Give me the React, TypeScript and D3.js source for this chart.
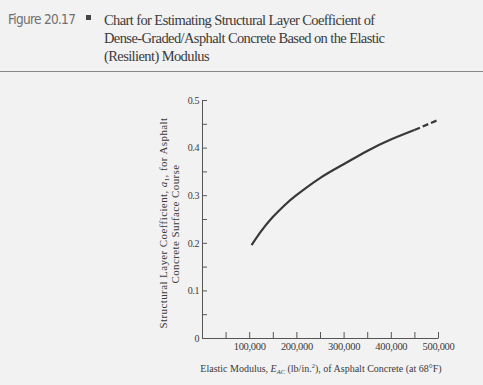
import React, { useEffect, useRef } from 'react';
import * as d3 from 'd3';

// values
const solidModulus = [105000, 125000, 150000, 175000, 200000, 250000, 300000, 350000, 400000, 450000];
const solidCoef = [0.195, 0.224, 0.254, 0.279, 0.300, 0.336, 0.365, 0.393, 0.417, 0.437];
const dashedModulus = [450000, 500000];
const dashedCoef = [0.437, 0.458];

const xTicks = [50000, 100000, 150000, 200000, 250000, 300000, 350000, 400000, 450000, 500000];
const xLabelTicks = [100000, 200000, 300000, 400000, 500000];
const yTicks = [0, 0.05, 0.1, 0.15, 0.2, 0.25, 0.3, 0.35, 0.4, 0.45, 0.5];
const yLabelTicks = [0, 0.1, 0.2, 0.3, 0.4, 0.5];

const titleLines = [
  'Chart for Estimating Structural Layer Coefficient of',
  'Dense-Graded/Asphalt Concrete Based on the Elastic',
  '(Resilient) Modulus'
];

const W = 483;
const H = 385;

function App() {
  const svgRef = useRef(null);

  useEffect(() => {
    document.body.style.margin = '0';
    const svg = d3.select(svgRef.current);
    svg.selectAll('*').remove();

    const serif = '"Liberation Serif", "DejaVu Serif", serif';
    const ink = '#3a3a3a';

    svg.append('rect').attr('width', W).attr('height', H).attr('fill', '#f2f2f2');

    // header
    svg.append('text')
      .attr('x', 8).attr('y', 24)
      .attr('font-family', '"Liberation Sans Narrow", "DejaVu Sans Condensed", sans-serif')
      .attr('font-size', 13.5).attr('fill', '#707070')
      .attr('letter-spacing', -0.7)
      .text('Figure 20.17');
    svg.append('rect').attr('x', 86).attr('y', 15).attr('width', 5).attr('height', 5).attr('fill', '#444');
    titleLines.forEach((t, i) => {
      svg.append('text')
        .attr('x', 104).attr('y', 25 + i * 18)
        .attr('font-family', serif).attr('font-size', 14.5).attr('fill', ink)
        .attr('letter-spacing', -0.6)
        .text(t);
    });
    svg.append('line')
      .attr('x1', 0).attr('x2', W).attr('y1', 71.5).attr('y2', 71.5)
      .attr('stroke', '#888').attr('stroke-width', 1.2);

    const x = d3.scaleLinear().domain([0, 500000]).range([202, 438]);
    const y = d3.scaleLinear().domain([0, 0.5]).range([338, 100]);

    // x axis, ticks pointing up
    const gx = svg.append('g').attr('transform', `translate(0,${y(0)})`);
    gx.call(d3.axisBottom(x).tickValues(xTicks).tickSizeInner(-6).tickSizeOuter(0).tickFormat(() => ''));
    gx.selectAll('.tick text')
      .filter(d => xLabelTicks.includes(d))
      .text(d => d3.format(',')(d))
      .attr('y', 5);
    gx.selectAll('text').attr('font-family', serif).attr('font-size', 10.5).attr('fill', ink).attr('letter-spacing', -0.3);
    gx.selectAll('line, path').attr('stroke', '#555');

    // y axis, ticks pointing right
    const gy = svg.append('g').attr('transform', `translate(${x(0)},0)`);
    gy.call(d3.axisLeft(y).tickValues(yTicks).tickSizeInner(-5).tickSizeOuter(0).tickPadding(3)
      .tickFormat(d => yLabelTicks.some(v => Math.abs(v - d) < 1e-9) ? (d === 0 ? '0' : d3.format('.1f')(d)) : ''));
    gy.selectAll('text').attr('font-family', serif).attr('font-size', 10).attr('fill', ink).attr('letter-spacing', -0.4);
    gy.selectAll('line, path').attr('stroke', '#555');

    // curve
    const line = d3.line().x(d => x(d[0])).y(d => y(d[1])).curve(d3.curveNatural);
    svg.append('path')
      .datum(solidModulus.map((m, i) => [m, solidCoef[i]]))
      .attr('fill', 'none').attr('stroke', '#383838').attr('stroke-width', 2.2)
      .attr('d', line);
    svg.append('path')
      .datum(dashedModulus.map((m, i) => [m, dashedCoef[i]]))
      .attr('fill', 'none').attr('stroke', '#383838').attr('stroke-width', 2.2)
      .attr('stroke-dasharray', '6,3')
      .attr('d', line);

    // y title, two rotated lines
    const yt1 = svg.append('text')
      .attr('transform', 'translate(167,223) rotate(-90)')
      .attr('text-anchor', 'middle')
      .attr('font-family', serif).attr('font-size', 11).attr('fill', ink)
      .attr('letter-spacing', 0.4);
    yt1.append('tspan').text('Structural Layer Coefficient, ');
    yt1.append('tspan').attr('font-style', 'italic').text('a');
    yt1.append('tspan').attr('font-size', 7).attr('dy', 2).text('1');
    yt1.append('tspan').attr('dy', -2).text(', for Asphalt');
    svg.append('text')
      .attr('transform', 'translate(179,224) rotate(-90)')
      .attr('text-anchor', 'middle')
      .attr('font-family', serif).attr('font-size', 11).attr('fill', ink)
      .attr('letter-spacing', 0.4)
      .text('Concrete Surface Course');

    // x title
    const xt = svg.append('text')
      .attr('x', 321).attr('y', 372)
      .attr('text-anchor', 'middle')
      .attr('font-family', serif).attr('font-size', 10).attr('fill', ink);
    xt.append('tspan').text('Elastic Modulus, ');
    xt.append('tspan').attr('font-style', 'italic').text('E');
    xt.append('tspan').attr('font-style', 'italic').attr('font-size', 6.5).attr('dy', 2).text('AC');
    xt.append('tspan').attr('dy', -2).text(' (lb/in.');
    xt.append('tspan').attr('font-size', 6.5).attr('dy', -4).text('2');
    xt.append('tspan').attr('dy', 4).text('), of Asphalt Concrete (at 68°F)');
  }, []);

  return (
    <div style={{ position: 'absolute', left: 0, top: 0 }}>
      <svg ref={svgRef} width={W} height={H} />
    </div>
  );
}

export default App;
